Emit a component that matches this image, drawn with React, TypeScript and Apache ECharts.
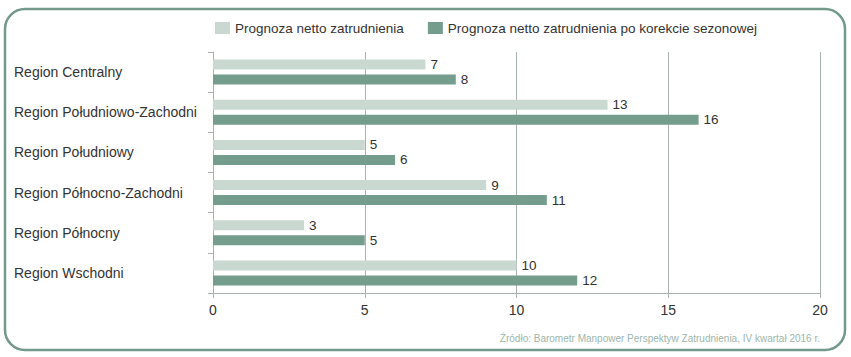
import React, { useEffect, useRef } from "react";
import * as echarts from "echarts";

const categories = [
  "Region Centralny",
  "Region Południowo-Zachodni",
  "Region Południowy",
  "Region Północno-Zachodni",
  "Region Północny",
  "Region Wschodni",
];
const seriesNames = [
  "Prognoza netto zatrudnienia",
  "Prognoza netto zatrudnienia po korekcie sezonowej",
];
const netValues = [7, 13, 5, 9, 3, 10];
const adjustedValues = [8, 16, 6, 11, 5, 12];
const sourceText = "Źródło: Barometr Manpower Perspektyw Zatrudnienia, IV kwartał 2016 r.";

const FONT = "'Liberation Sans', Arial, Helvetica, sans-serif";

export default function App() {
  const ref = useRef<HTMLDivElement>(null);
  useEffect(() => {
    if (!ref.current) return;
    const chart = echarts.init(ref.current, undefined, { renderer: "svg" });
    const label = {
      show: true,
      position: "right" as const,
      distance: 5,
      color: "#333",
      fontSize: 13.5,
      fontFamily: FONT,
    };
    chart.setOption({
      animation: false,
      textStyle: { fontFamily: FONT },
      legend: {
        top: 16,
        left: 210,
        itemWidth: 15,
        itemHeight: 12,
        itemGap: 24,
        icon: "rect",
        textStyle: { fontSize: 13.5, color: "#333", fontFamily: FONT },
        data: seriesNames,
      },
      grid: { left: 213, right: 31, top: 52, bottom: 64, containLabel: false },
      xAxis: {
        type: "value",
        min: 0,
        max: 20,
        interval: 5,
        axisLine: { show: true, lineStyle: { color: "#a9b3ae", width: 1 } },
        axisTick: { show: true, length: 5, lineStyle: { color: "#a9b3ae" } },
        splitLine: { show: true, lineStyle: { color: "#a9b3ae", width: 1 } },
        axisLabel: { color: "#333", fontSize: 14, margin: 10, fontFamily: FONT },
      },
      yAxis: {
        type: "category",
        inverse: true,
        data: categories,
        axisLine: { show: true, lineStyle: { color: "#a9b3ae", width: 1 } },
        axisTick: { show: true, length: 5, lineStyle: { color: "#a9b3ae" } },
        axisLabel: {
          align: "left",
          margin: 199,
          color: "#333",
          fontSize: 14,
          fontFamily: FONT,
        },
      },
      series: [
        {
          name: seriesNames[0],
          type: "bar",
          data: netValues,
          barWidth: 10,
          barGap: "50%",
          itemStyle: { color: "#c9d8d1" },
          label,
        },
        {
          name: seriesNames[1],
          type: "bar",
          data: adjustedValues,
          barWidth: 10,
          itemStyle: { color: "#749d8d" },
          label,
        },
      ],
      graphic: [
        {
          type: "rect",
          shape: { x: 5, y: 9, width: 840, height: 341, r: 20 },
          style: { fill: "none", stroke: "#72998a", lineWidth: 2.5 },
          silent: true,
        },
        {
          type: "text",
          x: 820,
          y: 338,
          style: {
            text: sourceText,
            fill: "#9cb6aa",
            fontSize: 10,
            fontFamily: FONT,
            align: "right",
            verticalAlign: "middle",
          },
        },
      ],
    });
    return () => chart.dispose();
  }, []);
  return (
    <div
      ref={ref}
      style={{ position: "absolute", left: 0, top: 0, width: 851, height: 357, background: "#fff" }}
    />
  );
}
